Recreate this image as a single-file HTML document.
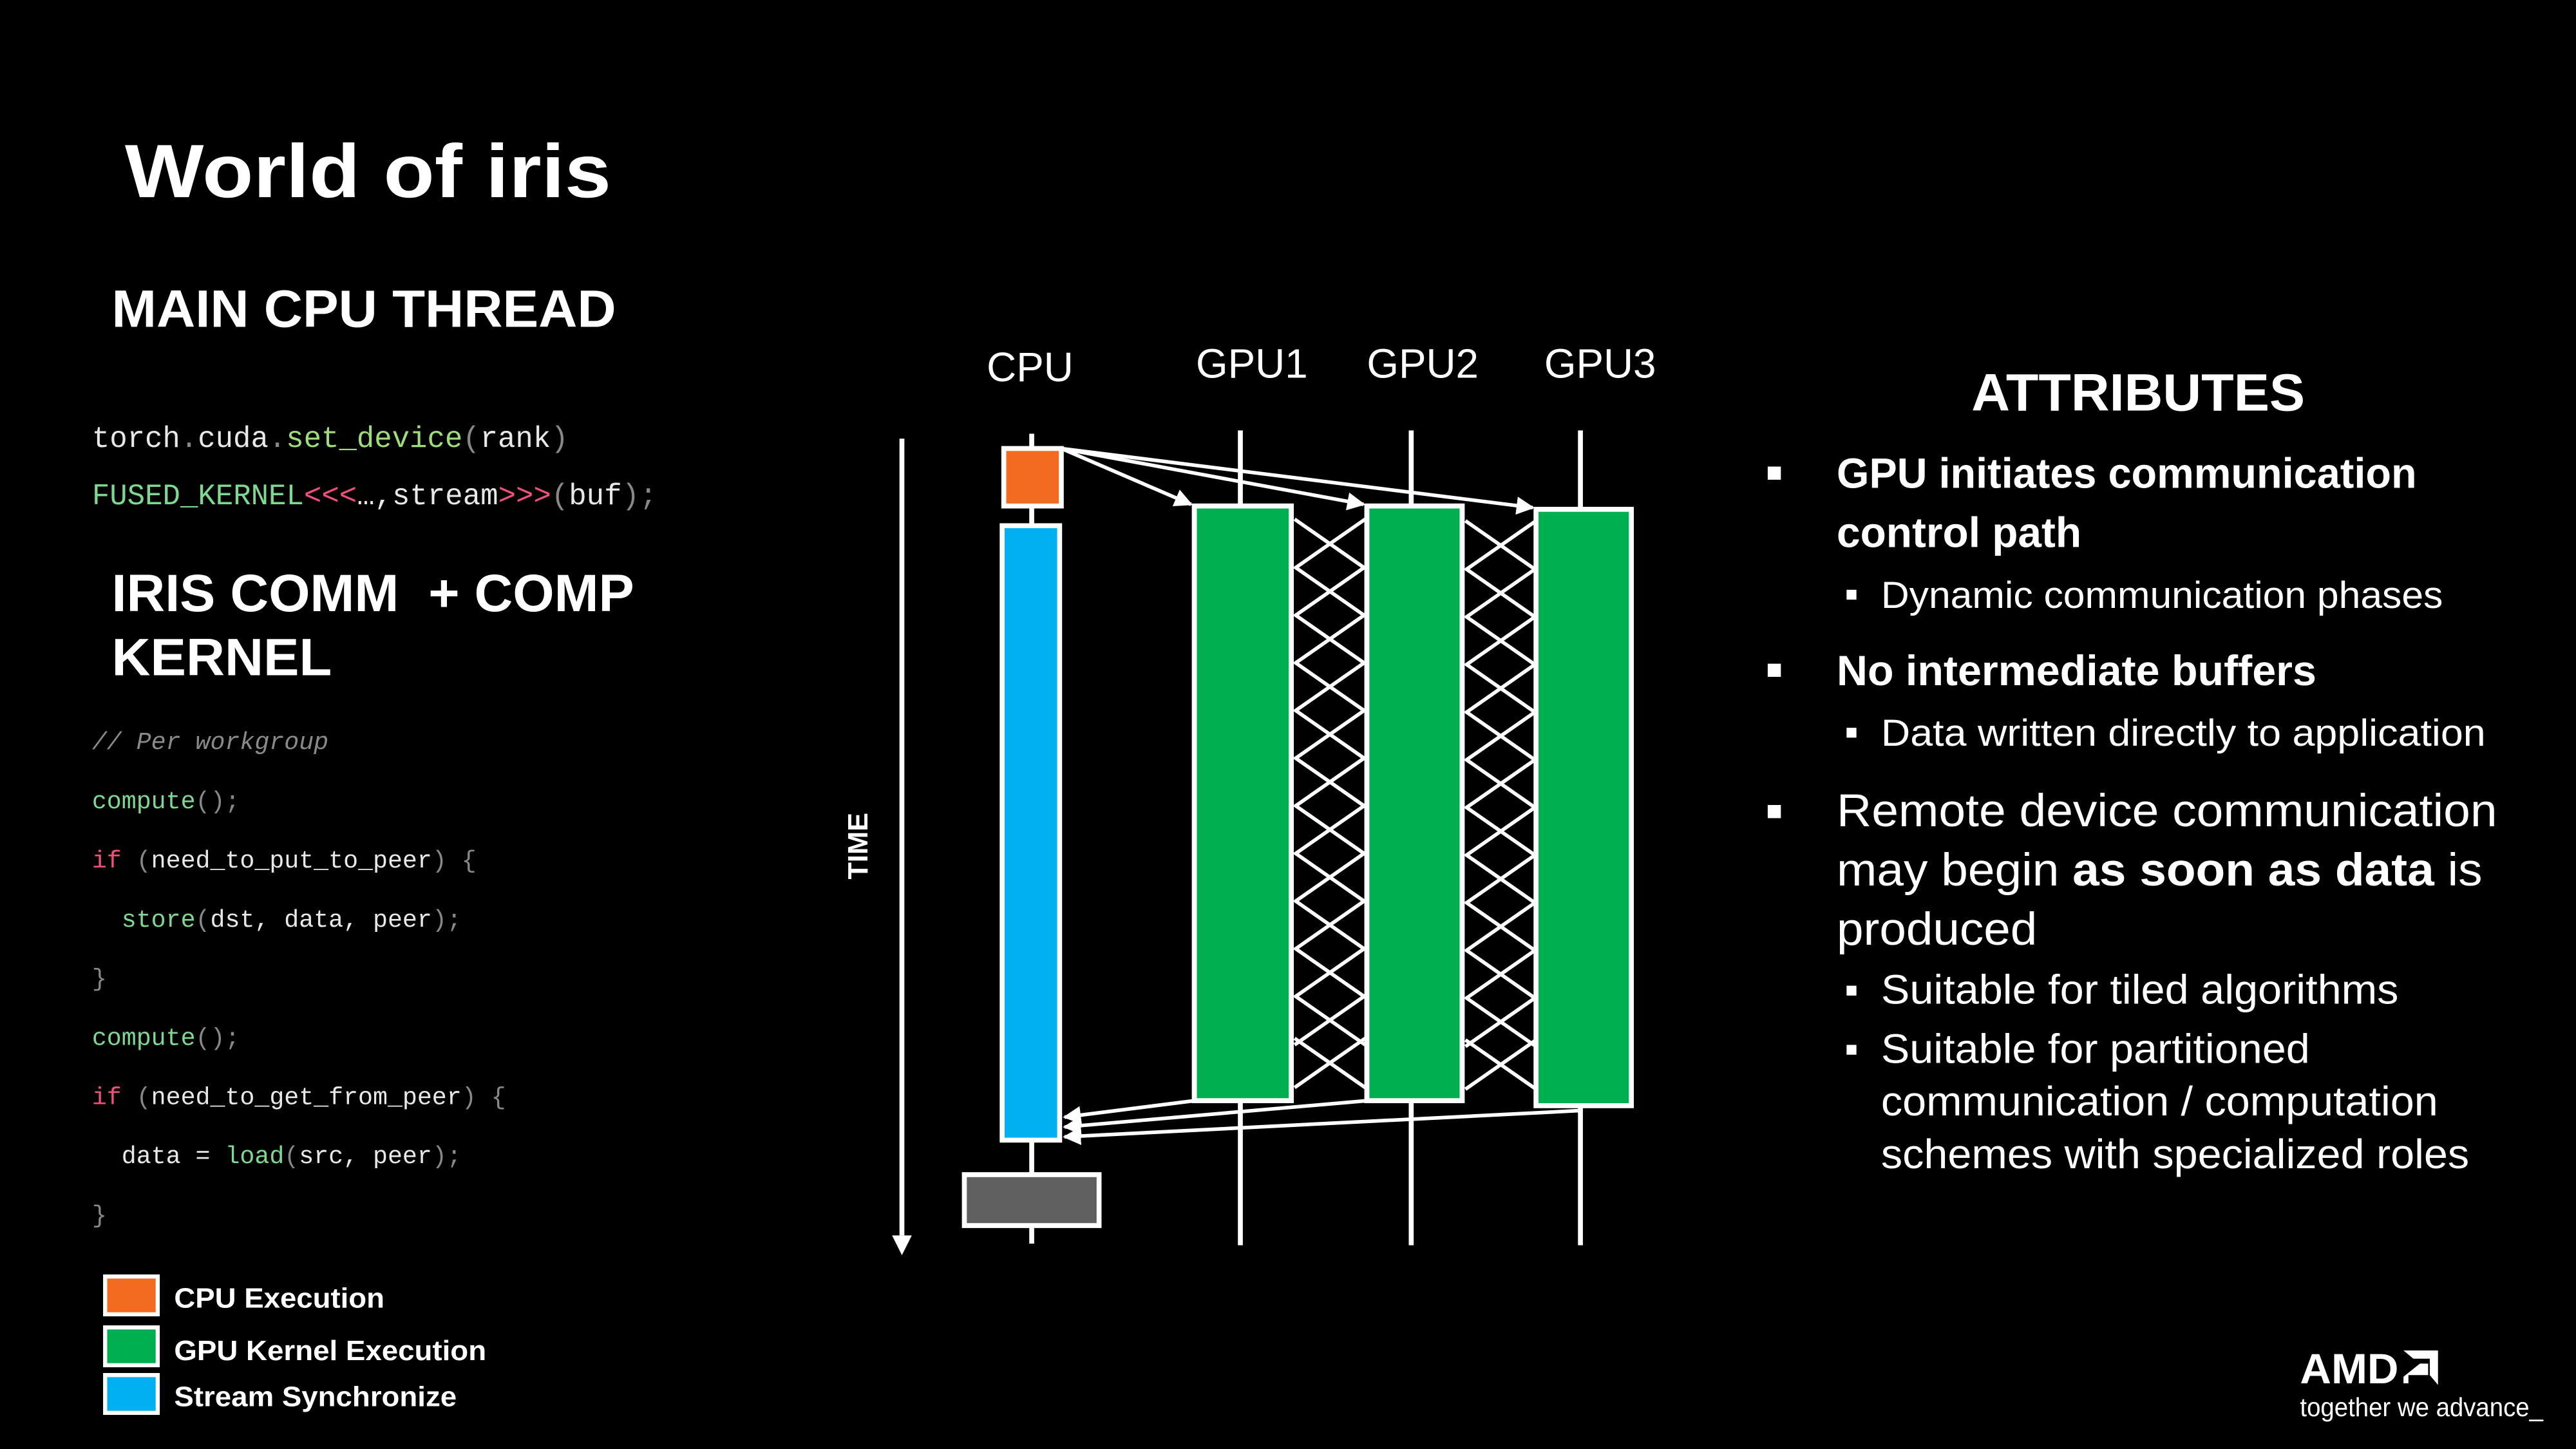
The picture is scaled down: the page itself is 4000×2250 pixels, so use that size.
<!DOCTYPE html>
<html><head><meta charset="utf-8"><style>
html,body{margin:0;padding:0;background:#000;}
svg{display:block;}
</style></head><body>
<svg width="4000" height="2250" viewBox="0 0 1568 882" xmlns="http://www.w3.org/2000/svg" font-family="Liberation Sans, sans-serif">
<rect width="1568" height="882" fill="#000"/>
<defs>
<marker id="ah" viewBox="0 0 10 10" refX="9" refY="5" markerWidth="5" markerHeight="5" orient="auto"><path d="M0,0 L10,5 L0,10 z" fill="#fff"/></marker>
</defs>
<text x="76" y="120" fill="#fff" font-size="46" font-weight="bold" textLength="296" lengthAdjust="spacingAndGlyphs">World of iris</text>
<text x="68" y="199" fill="#fff" font-size="32" font-weight="bold" textLength="307" lengthAdjust="spacingAndGlyphs">MAIN CPU THREAD</text>
<g font-family="Liberation Mono, monospace" font-size="18" xml:space="preserve">
<text x="56" y="272" textLength="290" lengthAdjust="spacingAndGlyphs"><tspan fill="#e8e8e8">torch</tspan><tspan fill="#888">.</tspan><tspan fill="#e8e8e8">cuda</tspan><tspan fill="#888">.</tspan><tspan fill="#9fdc7a">set_device</tspan><tspan fill="#888">(</tspan><tspan fill="#e8e8e8">rank</tspan><tspan fill="#888">)</tspan></text>
<text x="56" y="307" textLength="344" lengthAdjust="spacingAndGlyphs"><tspan fill="#7ed891">FUSED_KERNEL</tspan><tspan fill="#f0507a">&lt;&lt;&lt;</tspan><tspan fill="#e8e8e8">…,stream</tspan><tspan fill="#f0507a">&gt;&gt;&gt;</tspan><tspan fill="#888">(</tspan><tspan fill="#e8e8e8">buf</tspan><tspan fill="#888">);</tspan></text>
</g>
<text x="68" y="372" fill="#fff" font-size="32" font-weight="bold" textLength="318" lengthAdjust="spacingAndGlyphs" xml:space="preserve">IRIS COMM  + COMP</text>
<text x="68" y="411" fill="#fff" font-size="32" font-weight="bold" textLength="134" lengthAdjust="spacingAndGlyphs">KERNEL</text>
<g font-family="Liberation Mono, monospace" font-size="15" xml:space="preserve">
<text x="56" y="456" fill="#8a8a8a" font-style="italic">// Per workgroup</text>
<text x="56" y="492"><tspan fill="#7ed891">compute</tspan><tspan fill="#888">();</tspan></text>
<text x="56" y="528"><tspan fill="#f0507a">if</tspan><tspan fill="#888"> (</tspan><tspan fill="#e8e8e8">need_to_put_to_peer</tspan><tspan fill="#888">) {</tspan></text>
<text x="74" y="564"><tspan fill="#7ed891">store</tspan><tspan fill="#888">(</tspan><tspan fill="#e8e8e8">dst, data, peer</tspan><tspan fill="#888">);</tspan></text>
<text x="56" y="600" fill="#888">}</text>
<text x="56" y="636"><tspan fill="#7ed891">compute</tspan><tspan fill="#888">();</tspan></text>
<text x="56" y="672"><tspan fill="#f0507a">if</tspan><tspan fill="#888"> (</tspan><tspan fill="#e8e8e8">need_to_get_from_peer</tspan><tspan fill="#888">) {</tspan></text>
<text x="74" y="708"><tspan fill="#e8e8e8">data = </tspan><tspan fill="#7ed891">load</tspan><tspan fill="#888">(</tspan><tspan fill="#e8e8e8">src, peer</tspan><tspan fill="#888">);</tspan></text>
<text x="56" y="744" fill="#888">}</text>
</g>
<rect x="64" y="777" width="32" height="23" fill="#F26B21" stroke="#fff" stroke-width="2.5"/>
<rect x="64" y="808" width="32" height="23" fill="#00B050" stroke="#fff" stroke-width="2.5"/>
<rect x="64" y="837" width="32" height="23" fill="#00B0F0" stroke="#fff" stroke-width="2.5"/>
<g fill="#fff" font-size="17" font-weight="bold">
<text x="106" y="796" textLength="128" lengthAdjust="spacingAndGlyphs">CPU Execution</text>
<text x="106" y="828" textLength="190" lengthAdjust="spacingAndGlyphs">GPU Kernel Execution</text>
<text x="106" y="856" textLength="172" lengthAdjust="spacingAndGlyphs">Stream Synchronize</text>
</g>
<g fill="#fff" font-size="25" text-anchor="middle">
<text x="627" y="232">CPU</text>
<text x="762" y="230">GPU1</text>
<text x="866" y="230">GPU2</text>
<text x="974" y="230">GPU3</text>
</g>
<text transform="translate(528,515) rotate(-90)" fill="#fff" font-size="17" font-weight="bold" text-anchor="middle">TIME</text>
<line x1="549" y1="267" x2="549" y2="752" stroke="#fff" stroke-width="3"/>
<path d="M543,752 L555,752 L549,764 z" fill="#fff"/>
<g stroke="#fff" stroke-width="3">
<line x1="628" y1="264" x2="628" y2="757"/>
<line x1="755" y1="262" x2="755" y2="758"/>
<line x1="859" y1="262" x2="859" y2="758"/>
<line x1="962" y1="262" x2="962" y2="758"/>
</g>
<g stroke="#fff" stroke-width="3">
<rect x="611" y="273" width="35" height="35" fill="#F26B21"/>
<rect x="610" y="320" width="35" height="374" fill="#00B0F0"/>
<rect x="587" y="715" width="82" height="31" fill="#606060"/>
<rect x="727" y="308" width="59" height="362" fill="#00B050"/>
<rect x="832" y="308" width="58" height="362" fill="#00B050"/>
<rect x="935" y="310" width="58" height="363" fill="#00B050"/>
</g>
<g stroke="#fff" stroke-width="2.2" fill="none">
<path id="xp" d="M788,316 L831,346 M788,346 L831,316 M788,345 L831,375 M788,375 L831,345 M788,374 L831,404 M788,404 L831,374 M788,403 L831,433 M788,433 L831,403 M788,432 L831,462 M788,462 L831,432 M788,461 L831,491 M788,491 L831,461 M788,490 L831,520 M788,520 L831,490 M788,519 L831,549 M788,549 L831,519 M788,548 L831,578 M788,578 L831,548 M788,577 L831,607 M788,607 L831,577 M788,606 L831,636 M788,636 L831,606 M788,632 L831,662 M788,662 L831,632"/>
<use href="#xp" transform="translate(104,1)"/>
</g>
<g stroke="#fff" stroke-width="3" fill="none">
<rect x="727" y="308" width="59" height="362"/>
<rect x="832" y="308" width="58" height="362"/>
<rect x="935" y="310" width="58" height="363"/>
</g>
<g stroke="#fff" stroke-width="2.2" marker-end="url(#ah)">
<line x1="646" y1="273" x2="725" y2="307"/>
<line x1="646" y1="273" x2="830" y2="307"/>
<line x1="646" y1="273" x2="933" y2="309"/>
<line x1="727" y1="670" x2="648" y2="680"/>
<line x1="832" y1="670" x2="648" y2="686"/>
<line x1="962" y1="676" x2="648" y2="692"/>
</g>
<text x="1200" y="250" fill="#fff" font-size="32" font-weight="bold" textLength="203" lengthAdjust="spacingAndGlyphs">ATTRIBUTES</text>
<g fill="#fff">
<rect x="1076" y="284" width="8" height="8"/>
<rect x="1076" y="404" width="8" height="8"/>
<rect x="1076" y="490" width="8" height="8"/>
<rect x="1124" y="359" width="6" height="6"/>
<rect x="1124" y="443" width="6" height="6"/>
<rect x="1124" y="600" width="6" height="6"/>
<rect x="1124" y="636" width="6" height="6"/>
</g>
<g fill="#fff">
<text x="1118" y="297" font-size="26" font-weight="bold" textLength="353" lengthAdjust="spacingAndGlyphs">GPU initiates communication</text>
<text x="1118" y="333" font-size="26" font-weight="bold" textLength="149" lengthAdjust="spacingAndGlyphs">control path</text>
<text x="1145" y="370" font-size="23" textLength="342" lengthAdjust="spacingAndGlyphs">Dynamic communication phases</text>
<text x="1118" y="417" font-size="26" font-weight="bold" textLength="292" lengthAdjust="spacingAndGlyphs">No intermediate buffers</text>
<text x="1145" y="454" font-size="23" textLength="368" lengthAdjust="spacingAndGlyphs">Data written directly to application</text>
<text x="1118" y="503" font-size="28" textLength="402" lengthAdjust="spacingAndGlyphs">Remote device communication</text>
<text x="1118" y="539" font-size="28" textLength="393" lengthAdjust="spacingAndGlyphs">may begin <tspan font-weight="bold">as soon as data</tspan> is</text>
<text x="1118" y="575" font-size="28" textLength="122" lengthAdjust="spacingAndGlyphs">produced</text>
<text x="1145" y="611" font-size="25" textLength="315" lengthAdjust="spacingAndGlyphs">Suitable for tiled algorithms</text>
<text x="1145" y="647" font-size="25" textLength="261" lengthAdjust="spacingAndGlyphs">Suitable for partitioned</text>
<text x="1145" y="679" font-size="25" textLength="339" lengthAdjust="spacingAndGlyphs">communication / computation</text>
<text x="1145" y="711" font-size="25" textLength="358" lengthAdjust="spacingAndGlyphs">schemes with specialized roles</text>
</g>
<text x="1400" y="842" fill="#fff" font-size="26" font-weight="bold" textLength="60" lengthAdjust="spacingAndGlyphs">AMD</text>
<path d="M1463,822 L1484,822 L1484,843 L1479,837 L1479,827 L1469,827 z M1473,830 L1478,830 L1478,837 L1466,837 L1466,842 L1463,842 L1463,838 z" fill="#fff"/>
<text x="1400" y="862" fill="#fff" font-size="16" textLength="148" lengthAdjust="spacingAndGlyphs">together we advance_</text>
</svg>
</body></html>
